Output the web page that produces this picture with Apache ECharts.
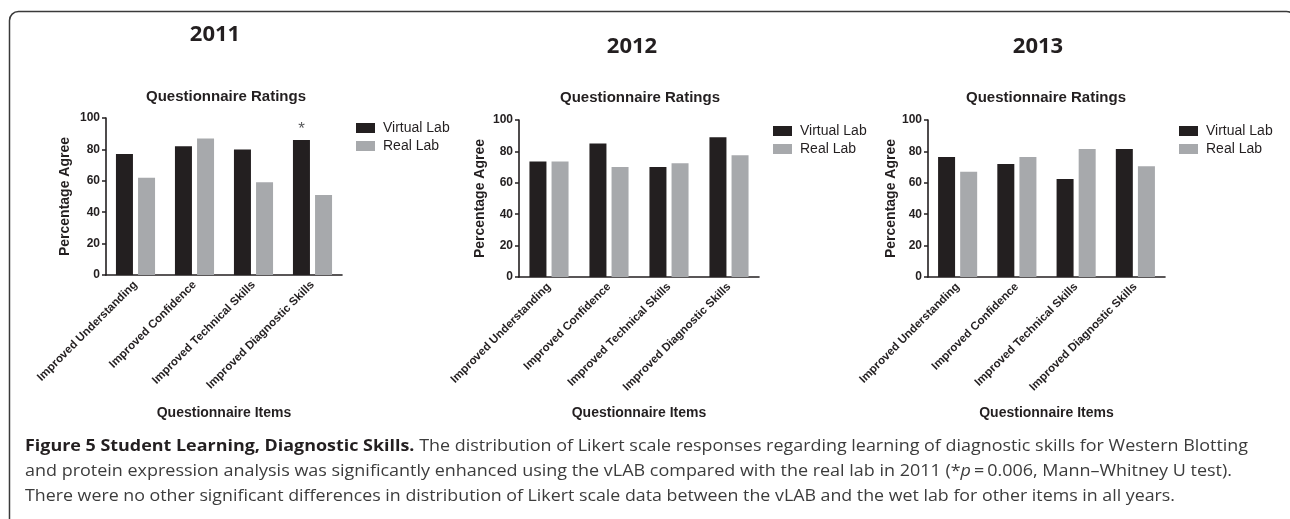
<!DOCTYPE html>
<html>
<head>
<meta charset="utf-8">
<script src="https://cdn.jsdelivr.net/npm/echarts@6/dist/echarts.min.js"></script>
<style>
html,body{margin:0;padding:0;background:#fff;}
#chart{width:1290px;height:519px;}
</style>
</head>
<body>
<div id="chart"></div>
<script>
// ---- data ----
const categories = ['Improved Understanding', 'Improved Confidence', 'Improved Technical Skills', 'Improved Diagnostic Skills'];
const years = ['2011', '2012', '2013'];
const seriesNames = ['Virtual Lab', 'Real Lab'];
const virtual2011 = [77, 82, 80, 86];
const real2011 = [62, 87, 59, 51];
const virtual2012 = [73.5, 85, 70, 89];
const real2012 = [73.5, 70, 72.5, 77.5];
const virtual2013 = [76.5, 72, 62.5, 81.5];
const real2013 = [67, 76.5, 81.5, 70.5];
const significance2011 = ['', '', '', '*'];
const panelTitle = 'Questionnaire Ratings';
const yAxisTitle = 'Percentage Agree';
const xAxisTitle = 'Questionnaire Items';
const yMin = 0, yMax = 100, yStep = 20;
const captionBold = 'Figure 5 Student Learning, Diagnostic Skills.';
const caption1 = ' The distribution of Likert scale responses regarding learning of diagnostic skills for Western Blotting';
const caption2a = 'and protein expression analysis was significantly enhanced using the vLAB compared with the real lab in 2011 (*';
const caption2p = 'p';
const caption2b = '\u2009=\u20090.006, Mann\u2013Whitney U test).';
const caption3 = 'There were no other significant differences in distribution of Likert scale data between the vLAB and the wet lab for other items in all years.';

// ---- layout ----
const INK = '#231f20';
const GRAY = '#a7a9ac';
const SANS = "'Liberation Sans', Arial, sans-serif";
const CAP = "'Open Sans', sans-serif";
const grids = [
  {left: 106, top: 118, width: 236, height: 157},
  {left: 519, top: 120, width: 240, height: 157},
  {left: 928, top: 120, width: 237, height: 157}
];
const yearPos = [[215, 35], [632, 47], [1038, 47]];
const ratingPos = [[226, 97], [640, 98], [1046, 98]];
const legendPos = [[356, 121], [773, 124], [1179, 124]];
const yNameGap = [34, 32, 30];
const xNameGap = [131, 129, 129];
const virtualData = [virtual2011, virtual2012, virtual2013];
const realData = [real2011, real2012, real2013];

const chart = echarts.init(document.getElementById('chart'), null, {renderer: 'canvas'});

const xAxes = [], yAxes = [], series = [], legends = [], graphics = [];
years.forEach((yr, i) => {
  xAxes.push({
    type: 'category', gridIndex: i, data: categories,
    axisLine: {lineStyle: {color: INK, width: 1.6}},
    axisTick: {alignWithLabel: true, length: 5, lineStyle: {color: INK, width: 1.5}},
    axisLabel: {interval: 0, rotate: 45, margin: 8, color: INK, fontFamily: SANS, fontWeight: 'bold', fontSize: 11.5},
    name: xAxisTitle, nameLocation: 'middle', nameGap: xNameGap[i], nameMoveOverlap: false,
    nameTextStyle: {color: INK, fontFamily: SANS, fontWeight: 'bold', fontSize: 14}
  });
  yAxes.push({
    type: 'value', gridIndex: i, min: yMin, max: yMax, interval: yStep,
    axisLine: {show: true, lineStyle: {color: INK, width: 1.6}},
    axisTick: {show: true, length: 4, lineStyle: {color: INK, width: 1.5}},
    splitLine: {show: false},
    axisLabel: {margin: 6, color: INK, fontFamily: SANS, fontWeight: 'bold', fontSize: 12},
    name: yAxisTitle, nameLocation: 'middle', nameGap: yNameGap[i],
    nameTextStyle: {color: INK, fontFamily: SANS, fontWeight: 'bold', fontSize: 14}
  });
  const vData = virtualData[i].map((v, k) => {
    const mark = i === 0 ? significance2011[k] : '';
    return mark ? {value: v, label: {show: true, formatter: mark}} : v;
  });
  series.push({
    type: 'bar', name: seriesNames[0], xAxisIndex: i, yAxisIndex: i, data: vData,
    barWidth: 17, barGap: '30%', itemStyle: {color: INK},
    label: {show: false, position: 'top', distance: 2, color: '#58595b', fontFamily: SANS, fontSize: 17},
    emphasis: {disabled: true}
  });
  series.push({
    type: 'bar', name: seriesNames[1], xAxisIndex: i, yAxisIndex: i, data: realData[i],
    barWidth: 17, barGap: '30%', itemStyle: {color: GRAY},
    emphasis: {disabled: true}
  });
  legends.push({
    data: seriesNames, orient: 'vertical', left: legendPos[i][0], top: legendPos[i][1],
    padding: 0, itemWidth: 19, itemHeight: 10, itemGap: 4, icon: 'rect',
    selectedMode: false,
    textStyle: {color: INK, fontFamily: SANS, fontSize: 14, lineHeight: 14, padding: [0, 0, 0, 3]}
  });
  graphics.push({
    type: 'text', x: yearPos[i][0], y: yearPos[i][1], silent: true,
    style: {text: yr, align: 'center', verticalAlign: 'middle', fill: INK,
      fontFamily: CAP, fontWeight: 'bold', fontSize: 22}
  });
  graphics.push({
    type: 'text', x: ratingPos[i][0], y: ratingPos[i][1], silent: true,
    style: {text: panelTitle, align: 'center', verticalAlign: 'middle', fill: INK,
      fontFamily: SANS, fontWeight: 'bold', fontSize: 15}
  });
});

// frame
graphics.push({
  type: 'rect', silent: true,
  shape: {x: 9.5, y: 11.5, width: 1286, height: 540, r: 9},
  style: {fill: 'none', stroke: '#3a3a3a', lineWidth: 1.5}
});

// caption with width fitting
const FS = 16.5;
const cv = document.createElement('canvas').getContext('2d');
function w(str, weight, style) {
  cv.font = (style || 'normal') + ' ' + (weight || 'normal') + ' ' + FS + 'px ' + CAP;
  return cv.measureText(str).width;
}
const capX = 25;
const l1w = w(captionBold, 'bold') + w(caption1);
const l2w = w(caption2a) + w(caption2p, 'normal', 'italic') + w(caption2b);
const l3w = w(caption3);
const capLines = [
  {y: 446, target: 1223, width: l1w, text: '{b|' + captionBold + '}{n|' + caption1 + '}'},
  {y: 471, target: 1207, width: l2w, text: '{n|' + caption2a + '}{i|' + caption2p + '}{n|' + caption2b + '}'},
  {y: 496, target: 1150, width: l3w, text: '{n|' + caption3 + '}'}
];
const rich = {
  b: {fontFamily: CAP, fontWeight: 'bold', fontSize: FS, fill: INK},
  n: {fontFamily: CAP, fontWeight: 'normal', fontSize: FS, fill: '#3c3c3c'},
  i: {fontFamily: CAP, fontWeight: 'normal', fontStyle: 'italic', fontSize: FS, fill: '#3c3c3c'}
};
capLines.forEach(l => {
  graphics.push({
    type: 'text', x: capX, y: l.y, scaleX: l.target / l.width, silent: true,
    style: {text: l.text, rich: rich, verticalAlign: 'middle', align: 'left',
      fontFamily: CAP, fontSize: FS, fill: '#3c3c3c'}
  });
});

chart.setOption({
  animation: false,
  backgroundColor: '#fff',
  grid: grids.map(g => Object.assign({containLabel: false}, g)),
  xAxis: xAxes,
  yAxis: yAxes,
  legend: legends,
  series: series,
  graphic: graphics
});
</script>
</body>
</html>
